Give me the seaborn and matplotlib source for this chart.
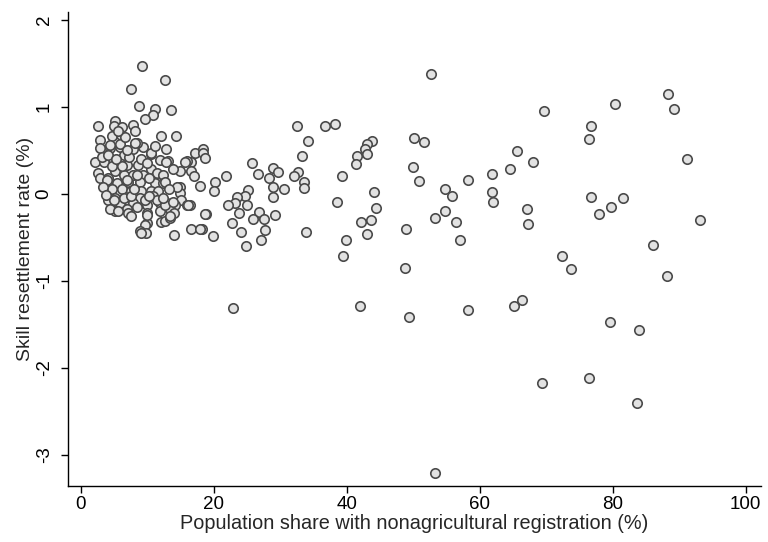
import matplotlib
matplotlib.use("Agg")
import matplotlib.pyplot as plt
import seaborn as sns
import pandas as pd

x_share = [
    69.7, 80.3, 88.3, 89.2, 76.8, 76.4, 65.6, 68.0, 64.5, 61.8, 91.2, 61.8, 62.0, 67.1, 67.2, 76.7,
    81.6, 79.7, 78.0, 93.1, 86.1, 72.3, 73.7, 88.1, 66.3, 65.2, 79.6, 83.9, 69.4, 76.4, 83.7,
    52.6, 38.2, 36.7, 43.8, 43.1, 42.8, 43.1, 41.5, 41.3, 50.1, 51.6, 49.9, 50.9, 39.3, 58.2,
    44.1, 38.5, 44.4, 43.7, 42.1, 43.1, 54.8, 55.8, 53.2, 54.8, 56.4, 57.0, 48.9, 39.8, 39.4,
    48.8, 42.0, 49.3, 58.2, 53.2,
    32.5, 34.1, 33.2, 32.6, 32.1, 33.6, 33.6, 33.8, 30.6,
    25.7, 28.9, 29.6, 26.7, 28.3, 28.9, 28.9, 21.8, 20.2, 20.0, 17.9, 25.1, 24.7, 23.5, 23.1,
    22.1, 25.0, 23.8, 26.8, 25.9, 27.6, 29.2, 22.7, 24.0, 27.7, 27.1, 24.8, 18.8, 16.4, 18.2,
    16.6, 19.8, 22.9, 17.1, 18.4, 18.4, 18.6, 16.6, 16.6, 17.0, 15.9, 15.6,
    9.2, 12.6, 7.6, 8.7, 11.1, 10.9, 9.6, 13.6, 2.6, 5.1, 5.0, 6.2, 7.8, 8.1, 4.6, 6.0, 2.9,
    12.0, 14.3, 12.8, 10.5, 9.4, 8.4, 7.9, 13.1, 11.9, 2.9, 4.4, 5.9, 6.4, 2.1, 3.4, 4.9, 6.9,
    8.6, 10.6, 11.4, 12.4, 14.9, 2.6, 2.9, 4.1, 5.1, 6.4, 7.9, 9.4, 5.4, 7.1, 8.9, 11.1, 12.4,
    14.9, 4.6, 6.1, 7.6, 9.1, 10.6, 11.6, 14.9, 5.1, 6.9, 8.9, 10.9, 15.1, 4.1, 5.9, 7.9, 9.9,
    11.9, 12.9, 14.1, 15.9, 6.9, 5.1, 11.9, 13.4, 14.0, 9.9, 7.1, 9.9, 12.1, 12.7, 13.4, 9.6,
    8.9, 9.8, 9.1, 14.0, 17.9, 18.6,
    4.4, 5.9, 8.1, 4.6, 6.1, 3.9, 6.9, 8.4, 4.4, 5.6, 7.6, 8.4, 4.9, 6.4, 7.6, 10.6, 12.8,
    12.6, 14.4, 16.1, 9.6, 11.4, 12.6, 13.9, 9.9, 13.4,
    3.3, 3.8, 3.1, 4.0, 5.3, 7.3, 9.0, 10.0, 8.0, 10.2, 6.6, 5.6, 7.0, 10.2, 13.3, 13.8, 11.2, 12.3,
]

y_rate = [
    0.95, 1.03, 1.15, 0.97, 0.78, 0.63, 0.49, 0.36, 0.28, 0.23, 0.40, 0.02, -0.10, -0.17, -0.35, -0.04,
    -0.05, -0.15, -0.23, -0.30, -0.59, -0.72, -0.87, -0.95, -1.22, -1.29, -1.47, -1.57, -2.18, -2.12, -2.40,
    1.38, 0.80, 0.78, 0.61, 0.57, 0.51, 0.46, 0.43, 0.34, 0.64, 0.59, 0.31, 0.15, 0.21, 0.16,
    0.02, -0.09, -0.16, -0.30, -0.33, -0.46, 0.05, -0.02, -0.28, -0.20, -0.32, -0.53, -0.40, -0.53, -0.71,
    -0.85, -1.29, -1.42, -1.34, -3.21,
    0.78, 0.61, 0.43, 0.25, 0.20, 0.14, 0.07, -0.44, 0.05,
    0.35, 0.30, 0.25, 0.23, 0.18, 0.08, -0.04, 0.21, 0.13, 0.03, 0.09, 0.04, -0.02, -0.04, -0.11,
    -0.13, -0.13, -0.22, -0.21, -0.29, -0.29, -0.24, -0.34, -0.44, -0.42, -0.53, -0.60, -0.23, -0.13, -0.41,
    -0.40, -0.48, -1.31, 0.47, 0.52, 0.47, 0.41, 0.36, 0.26, 0.21, 0.38, 0.37,
    1.47, 1.31, 1.20, 1.01, 0.98, 0.91, 0.86, 0.96, 0.78, 0.84, 0.78, 0.77, 0.79, 0.72, 0.67, 0.68, 0.62,
    0.66, 0.66, 0.51, 0.46, 0.54, 0.58, 0.51, 0.38, 0.39, 0.53, 0.53, 0.54, 0.45, 0.36, 0.36, 0.33, 0.33,
    0.33, 0.28, 0.24, 0.22, 0.26, 0.24, 0.18, 0.18, 0.26, 0.22, 0.22, 0.22, 0.12, 0.14, 0.14, 0.12, 0.12,
    0.08, 0.05, 0.05, 0.03, 0.03, 0.03, 0.03, 0.01, -0.05, -0.07, -0.05, -0.03, -0.07, -0.07, -0.11, -0.11, -0.13,
    -0.11, -0.11, -0.13, -0.13, -0.18, -0.20, -0.20, -0.18, -0.22, -0.22, -0.22, -0.34, -0.32, -0.31, -0.28, -0.36,
    -0.43, -0.45, -0.45, -0.47, -0.41, -0.23,
    0.56, 0.57, 0.58, 0.32, 0.32, 0.16, 0.16, 0.22, -0.18, -0.20, -0.26, -0.15, -0.07, -0.05, -0.03, 0.47, 0.37,
    0.14, 0.08, -0.13, -0.07, -0.07, -0.13, -0.09, -0.24, -0.26,
    0.08, -0.01, 0.42, 0.45, 0.40, 0.42, 0.40, 0.35, 0.06, 0.18, 0.65, 0.72, 0.50, -0.02, 0.05, 0.28, 0.55, -0.05,
]

x_ticks = [0, 20, 40, 60, 80, 100]
y_ticks = [-3, -2, -1, 0, 1, 2]

df = pd.DataFrame({"share": x_share, "rate": y_rate})

sns.set_style("ticks")
plt.rcParams["font.family"] = ["Liberation Sans", "DejaVu Sans"]

fig = plt.figure(figsize=(7.68, 5.42), dpi=100)
ax = fig.add_axes([68 / 768, 56 / 542, (761 - 68) / 768, (486 - 12) / 542])

sns.scatterplot(data=df, x="share", y="rate", ax=ax, s=46, color="#e2e2e2",
                edgecolor="#4a4a4a", linewidth=1.2, zorder=3)

ax.set_xlim(-1.95, 102.3)
ax.set_ylim(-3.36, 2.09)
ax.set_xticks(x_ticks)
ax.set_yticks(y_ticks)
ax.set_xticklabels([str(t) for t in x_ticks], fontsize=13.5)
ax.set_yticklabels([str(t) for t in y_ticks], fontsize=13.5, rotation=90, va="center")
ax.set_xlabel("Population share with nonagricultural registration (%)", fontsize=14.3, labelpad=1)
ax.set_ylabel("Skill resettlement rate (%)", fontsize=14, labelpad=1)
ax.tick_params(axis="x", length=5, width=1, color="black", labelcolor="black", pad=2)
ax.tick_params(axis="y", length=5, width=1, color="black", labelcolor="black", pad=6)
for side in ["top", "right"]:
    ax.spines[side].set_visible(False)
for side in ["left", "bottom"]:
    ax.spines[side].set_color("black")
    ax.spines[side].set_linewidth(1)

fig.savefig("out.png", dpi=100)
